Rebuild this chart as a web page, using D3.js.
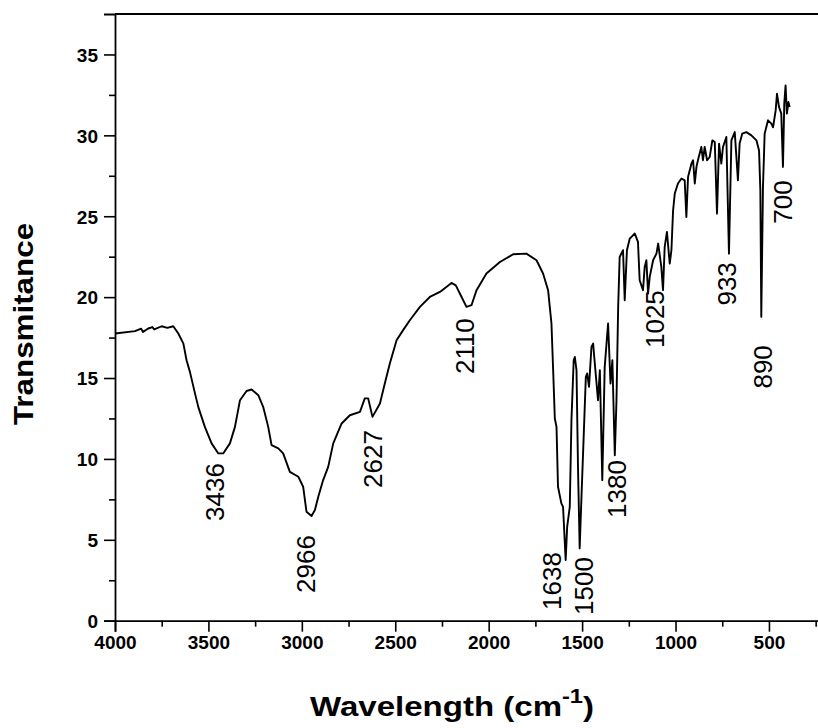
<!DOCTYPE html>
<html>
<head>
<meta charset="utf-8">
<script src="https://cdn.jsdelivr.net/npm/d3@7/dist/d3.min.js"></script>
<style>
  body { margin: 0; background: #fff; }
  svg { display: block; font-family: "Liberation Sans", Arial, sans-serif; }
</style>
</head>
<body>
<script>

// Spectrum (wavenumber in cm-1, transmitance)
var wavenumber = [4000, 3893, 3860, 3850, 3822, 3800, 3790, 3750, 3720, 3688, 3661, 3634, 3617, 3599, 3572, 3554, 3519, 3483, 3447, 3421,
	3385, 3358, 3331, 3296, 3269, 3233, 3207, 3180, 3162, 3126, 3100, 3064, 3019, 2993, 2975, 2948, 2930, 2912, 2886, 2859,
	2832, 2787, 2743, 2689, 2663, 2645, 2622, 2582, 2556, 2529, 2493, 2458, 2422, 2368, 2315, 2261, 2199, 2176, 2145, 2119,
	2092, 2065, 2012, 1940, 1869, 1798, 1744, 1709, 1682, 1673, 1664, 1655, 1646, 1637, 1629, 1611, 1602, 1588, 1580, 1566,
	1557, 1545, 1539, 1530, 1522, 1513, 1504, 1491, 1480, 1473, 1463, 1450, 1441, 1432, 1415, 1405, 1392, 1379, 1361, 1348,
	1338, 1325, 1316, 1307, 1299, 1281, 1272, 1260, 1245, 1218, 1201, 1192, 1174, 1165, 1156, 1147, 1138, 1120, 1102, 1093,
	1076, 1067, 1058, 1046, 1031, 1022, 1013, 1004, 987, 968, 951, 942, 933, 915, 906, 897, 888, 880, 862, 853,
	844, 831, 817, 803, 790, 778, 767, 755, 746, 728, 714, 701, 683, 666, 657, 643, 621, 594, 567, 553,
	546, 541, 532, 523, 505, 487, 478, 464, 457, 446, 434, 425, 418, 411, 404, 396, 389];

var transmitance = [17.75, 17.9, 18.05, 17.85, 18.06, 18.15, 18.0, 18.2, 18.1, 18.2, 17.75, 17.13, 16.1, 15.38, 14.05, 13.2, 11.98, 10.96, 10.34, 10.34,
	10.96, 11.98, 13.63, 14.2, 14.29, 13.94, 13.22, 11.98, 10.85, 10.65, 10.34, 9.2, 8.9, 8.28, 6.73, 6.47, 6.84, 7.66, 8.69, 9.51,
	10.96, 12.19, 12.7, 12.91, 13.74, 13.74, 12.6, 13.43, 14.66, 15.9, 17.34, 17.96, 18.57, 19.4, 20.01, 20.32, 20.88, 20.73, 20.01, 19.4,
	19.5, 20.43, 21.46, 22.17, 22.65, 22.69, 22.28, 21.46, 20.43, 19.4, 18.37, 15.5, 12.5, 11.98, 8.28, 7.25, 7.04, 3.75, 5.8, 7.04,
	12.4, 16.1, 16.3, 15.49, 9.51, 4.47, 7.45, 11.57, 15.07, 15.28, 14.45, 16.92, 17.13, 15.9, 13.63, 15.49, 8.69, 15.69, 18.37, 14.66,
	16.1, 10.23, 13.63, 19.4, 22.48, 22.9, 19.81, 22.9, 23.62, 23.93, 23.41, 21.04, 20.43, 21.87, 22.28, 20.22, 21.25, 22.28, 22.69, 23.31,
	21.87, 20.43, 23.1, 24.03, 22.07, 22.9, 25.37, 26.4, 27.02, 27.33, 27.22, 24.95, 27.42, 28.25, 28.46, 27.02, 28.05, 28.46, 29.28, 28.46,
	29.28, 28.46, 28.66, 29.69, 29.59, 25.16, 29.49, 28.25, 29.28, 29.9, 22.69, 29.69, 30.2, 27.22, 29.49, 30.1, 30.2, 30.0, 29.69, 29.07,
	26.6, 18.78, 26.8, 30.1, 30.93, 30.72, 30.5, 31.54, 32.57, 31.75, 31.34, 28.05, 31.96, 33.09, 31.34, 32.06, 31.75];

// Peak labels: text, position (wavenumber) and top of the label (transmitance)
var peakLabels = ["3436", "2966", "2627", "2110", "1638", "1500", "1380", "1025", "933", "890", "700"];
var peakX = [3465, 2978, 2620, 2128, 1662, 1491, 1315, 1111, 726, 534, 427];
var peakTop = [9.74, 5.29, 11.78, 18.7, 4.24, 3.93, 9.93, 20.43, 22.16, 17.03, 27.22];

// Axis ticks
var xTicks = [4000, 3500, 3000, 2500, 2000, 1500, 1000, 500];
var xMinor = [3750, 3250, 2750, 2250, 1750, 1250, 750, 250];
var yTicks = [0, 5, 10, 15, 20, 25, 30, 35];
var yMinor = [2.5, 7.5, 12.5, 17.5, 22.5, 27.5, 32.5];

var W = 818, H = 728;
var margin = {left: 115, top: 14, right: 825, bottom: 620.7};

var svg = d3.select("body").append("svg")
	.attr("width", W)
	.attr("height", H);

var x = d3.scaleLinear()
	.domain([4000, 200])
	.range([margin.left, margin.right]);

var y = d3.scaleLinear()
	.domain([0, 37.5])
	.range([margin.bottom, margin.top]);

// Axes (major ticks with labels, then minor ticks)
var xAxis = d3.axisBottom(x)
	.tickValues(xTicks)
	.tickFormat(d3.format("d"))
	.tickSize(11)
	.tickPadding(4);

var yAxis = d3.axisLeft(y)
	.tickValues(yTicks)
	.tickFormat(d3.format("d"))
	.tickSize(11)
	.tickPadding(6);

var gx = svg.append("g")
	.attr("class", "axis x-axis")
	.attr("transform", "translate(0," + margin.bottom + ")")
	.call(xAxis);

svg.append("g")
	.attr("transform", "translate(0," + margin.bottom + ")")
	.call(d3.axisBottom(x).tickValues(xMinor).tickSize(6).tickFormat(""))
	.select(".domain").remove();

var gy = svg.append("g")
	.attr("class", "axis y-axis")
	.attr("transform", "translate(" + margin.left + ",0)")
	.call(yAxis);

svg.append("g")
	.attr("transform", "translate(" + margin.left + ",0)")
	.call(d3.axisLeft(y).tickValues(yMinor).tickSize(6).tickFormat(""))
	.select(".domain").remove();

svg.selectAll(".tick line")
	.attr("stroke", "#000")
	.attr("stroke-width", 1.6);

svg.selectAll(".domain")
	.attr("stroke", "#000")
	.attr("stroke-width", 1.8);

svg.selectAll(".axis text")
	.attr("fill", "#000")
	.style("font-size", "19px")
	.style("font-weight", "bold");

gy.selectAll("text").attr("dy", "0.36em");

// Top frame line
svg.append("line")
	.attr("x1", x(4000))
	.attr("x2", x(200))
	.attr("y1", y(37.5))
	.attr("y2", y(37.5))
	.attr("stroke", "#000")
	.attr("stroke-width", 1.8);

// Spectrum
var points = wavenumber.map(function(d, i) {
	return [d, transmitance[i]];
});

var line = d3.line()
	.x(function(d) { return x(d[0]); })
	.y(function(d) { return y(d[1]); });

svg.append("path")
	.datum(points)
	.attr("fill", "none")
	.attr("stroke", "#000")
	.attr("stroke-width", 1.9)
	.attr("stroke-linejoin", "round")
	.attr("d", line);

// Peak labels, rotated
svg.selectAll(".peak")
	.data(peakLabels)
	.enter()
	.append("text")
	.attr("class", "peak")
	.attr("transform", function(d, i) {
		return "translate(" + x(peakX[i]) + "," + y(peakTop[i]) + ") rotate(-90)";
	})
	.attr("text-anchor", "end")
	.attr("dy", "0.36em")
	.style("font-size", "26px")
	.attr("fill", "#000")
	.text(function(d) { return d; });

// Axis titles (the original font is a bit wider, hence the scale)
var xt = svg.append("text")
	.attr("transform", "translate(452,716) scale(1.18,1)")
	.attr("text-anchor", "middle")
	.style("font-size", "28px")
	.style("font-weight", "bold")
	.attr("fill", "#000");
xt.append("tspan").text("Wavelength (cm");
xt.append("tspan").attr("dy", -13).style("font-size", "20px").text("-1");
xt.append("tspan").attr("dy", 13).text(")");

svg.append("text")
	.attr("transform", "translate(33,324) rotate(-90) scale(1.12,1)")
	.attr("text-anchor", "middle")
	.style("font-size", "28px")
	.style("font-weight", "bold")
	.attr("fill", "#000")
	.text("Transmitance");

</script>
</body>
</html>
